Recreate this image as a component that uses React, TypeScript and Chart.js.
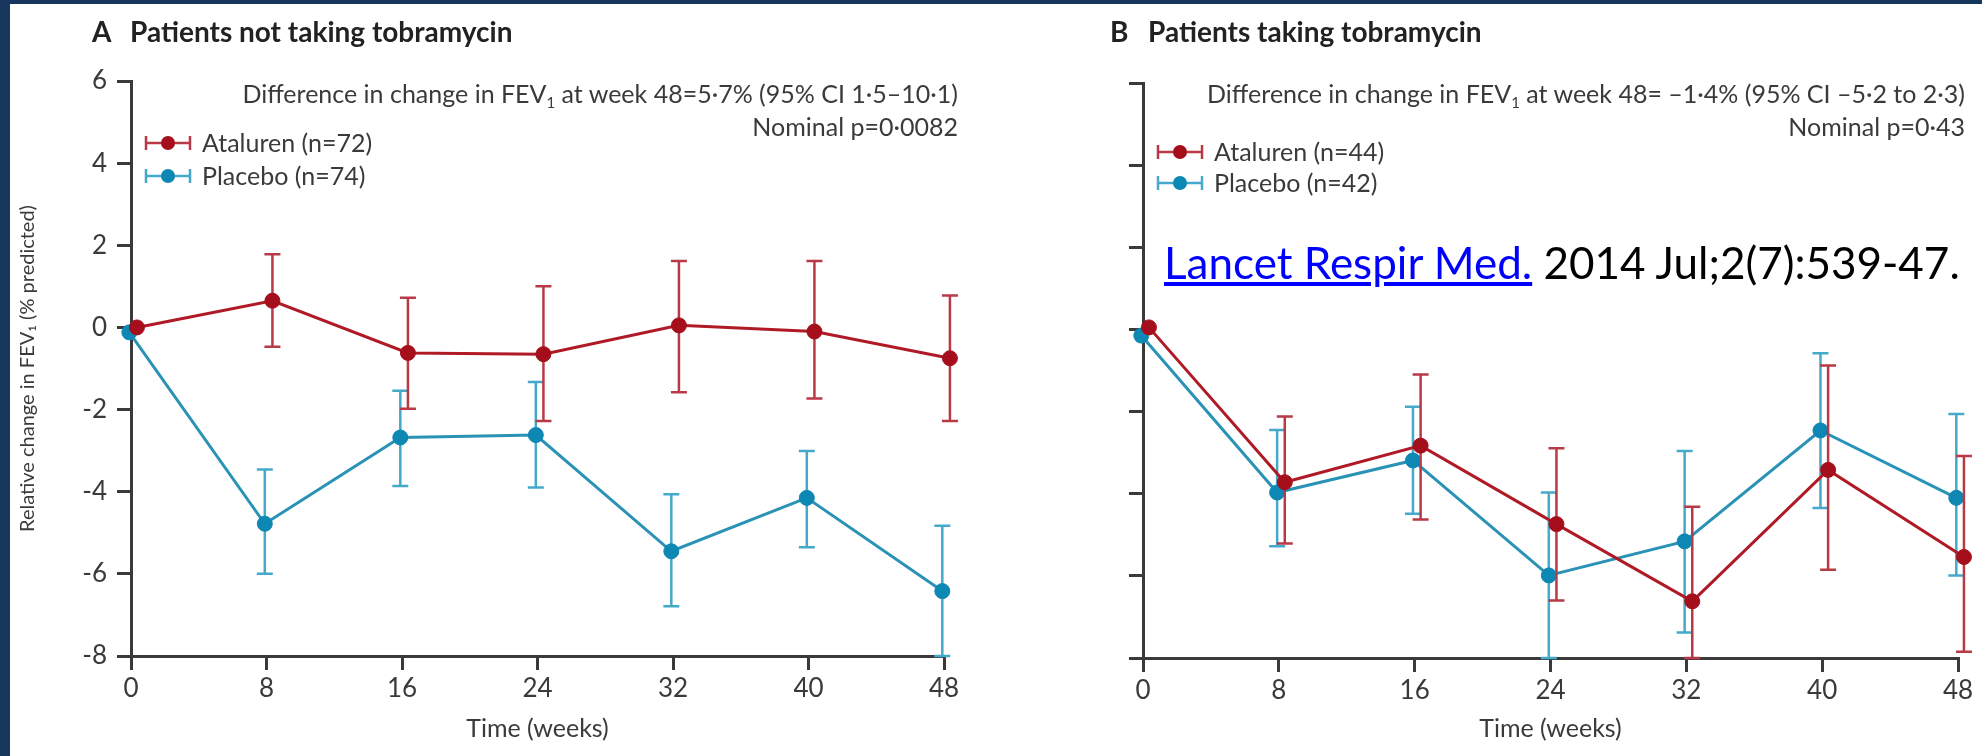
import React, { useEffect, useRef } from "react";
import { Chart, registerables } from "chart.js";

Chart.register(...registerables);

// ---------- data ----------
const WEEKS = [0, 8, 16, 24, 32, 40, 48];
const X_MIN = 0;
const X_MAX = 48;
const X_STEP = 8;
const Y_MIN = -8;
const Y_MAX = 6;
const Y_STEP = 2;

const A_ATALUREN_LABEL = "Ataluren (n=72)";
const A_PLACEBO_LABEL = "Placebo (n=74)";
const A_ATALUREN_MEAN = [0, 0.65, -0.62, -0.65, 0.05, -0.1, -0.75];
const A_ATALUREN_UPPER = [null, 1.78, 0.72, 1.0, 1.62, 1.62, 0.78];
const A_ATALUREN_LOWER = [null, -0.47, -1.98, -2.28, -1.58, -1.73, -2.28];
const A_PLACEBO_MEAN = [-0.12, -4.78, -2.68, -2.62, -5.45, -4.15, -6.42];
const A_PLACEBO_UPPER = [null, -3.46, -1.54, -1.33, -4.06, -3.01, -4.83];
const A_PLACEBO_LOWER = [null, -6.0, -3.86, -3.9, -6.79, -5.35, -8.0];

const B_ATALUREN_LABEL = "Ataluren (n=44)";
const B_PLACEBO_LABEL = "Placebo (n=42)";
const B_ATALUREN_MEAN = [0.05, -3.72, -2.83, -4.74, -6.62, -3.42, -5.54];
const B_ATALUREN_UPPER = [null, -2.12, -1.1, -2.89, -4.32, -0.88, -3.08];
const B_ATALUREN_LOWER = [null, -5.21, -4.63, -6.6, -8.0, -5.85, -7.85];
const B_PLACEBO_MEAN = [-0.15, -3.97, -3.19, -5.99, -5.16, -2.46, -4.1];
const B_PLACEBO_UPPER = [null, -2.45, -1.88, -3.97, -2.96, -0.58, -2.06];
const B_PLACEBO_LOWER = [null, -5.28, -4.49, -8.0, -7.38, -4.35, -5.99];

// small horizontal dodge so the two groups do not overlap exactly
const ATALUREN_DODGE = 0.35;
const PLACEBO_DODGE = -0.1;

// ---------- styles ----------
const NAVY = "#17365d";
const FONT = "Lato, 'Noto Sans', sans-serif";
const AXIS_COLOR = "#3a3a3a";
const TEXT_COLOR = "#3a3a3a";
const RED_LINE = "#b01a26";
const RED_POINT = "#a50f1c";
const RED_ERR = "#b83a46";
const BLUE_LINE = "#2a93b5";
const BLUE_POINT = "#0d87b3";
const BLUE_ERR = "#45a9c9";

const errorBarPlugin = {
  id: "errorBars",
  beforeDatasetDraw(chart: any, args: any) {
    const ds = chart.data.datasets[args.index];
    if (!ds.upper) return;
    const xs = chart.scales.x;
    const ys = chart.scales.y;
    const ctx = chart.ctx;
    const cap = 8;
    ctx.save();
    ctx.strokeStyle = ds.errorColor;
    ctx.lineWidth = 2.5;
    ds.data.forEach((p: any, i: number) => {
      const hi = ds.upper[i];
      const lo = ds.lower[i];
      if (hi == null || lo == null) return;
      const px = xs.getPixelForValue(p.x);
      const yt = ys.getPixelForValue(hi);
      const yb = ys.getPixelForValue(lo);
      ctx.beginPath();
      ctx.moveTo(px, yt);
      ctx.lineTo(px, yb);
      ctx.moveTo(px - cap, yt);
      ctx.lineTo(px + cap, yt);
      ctx.moveTo(px - cap, yb);
      ctx.lineTo(px + cap, yb);
      ctx.stroke();
    });
    ctx.restore();
  },
};

const legendPlugin = {
  id: "errLegend",
  afterDraw(chart: any, _args: any, opts: any) {
    const { ctx, chartArea } = chart;
    const x0 = chartArea.left + 15;
    chart.data.datasets.forEach((ds: any, i: number) => {
      const y = chartArea.top + opts.offsetY + i * opts.rowGap;
      ctx.save();
      ctx.strokeStyle = ds.errorColor;
      ctx.lineWidth = 2.5;
      ctx.beginPath();
      ctx.moveTo(x0, y);
      ctx.lineTo(x0 + 44, y);
      ctx.moveTo(x0, y - 7);
      ctx.lineTo(x0, y + 7);
      ctx.moveTo(x0 + 44, y - 7);
      ctx.lineTo(x0 + 44, y + 7);
      ctx.stroke();
      ctx.fillStyle = ds.pointBackgroundColor;
      ctx.beginPath();
      ctx.arc(x0 + 22, y, 7, 0, Math.PI * 2);
      ctx.fill();
      ctx.fillStyle = TEXT_COLOR;
      ctx.font = `25px ${FONT}`;
      ctx.textBaseline = "middle";
      ctx.textAlign = "left";
      ctx.fillText(ds.label, x0 + 56, y + 1);
      ctx.restore();
    });
  },
};

function series(label: string, mean: number[], upper: any[], lower: any[], dodge: number, line: string, point: string, err: string) {
  return {
    label,
    data: WEEKS.map((w, i) => ({ x: w + dodge, y: mean[i] })),
    upper,
    lower,
    errorColor: err,
    borderColor: line,
    backgroundColor: point,
    pointBackgroundColor: point,
    pointBorderColor: point,
    pointRadius: 7.5,
    pointBorderWidth: 1,
    borderWidth: 3,
    tension: 0,
    clip: false,
  };
}

function makeConfig(opts: {
  datasets: any[];
  showYLabels: boolean;
  yWidth: number;
  xHeight: number;
  padding: { top: number; right: number; left: number; bottom: number };
  legendOffsetY: number;
  legendRowGap: number;
}) {
  return {
    type: "line" as const,
    data: { datasets: opts.datasets },
    options: {
      animation: false as const,
      responsive: false,
      maintainAspectRatio: false,
      layout: { padding: opts.padding },
      plugins: {
        legend: { display: false },
        tooltip: { enabled: false },
        title: { display: false },
        errLegend: { offsetY: opts.legendOffsetY, rowGap: opts.legendRowGap },
      },
      scales: {
        x: {
          type: "linear" as const,
          min: X_MIN,
          max: X_MAX,
          ticks: { stepSize: X_STEP, color: TEXT_COLOR, font: { family: FONT, size: 26 }, padding: 3 },
          grid: { drawOnChartArea: false, drawTicks: true, tickLength: 14, lineWidth: 3, color: AXIS_COLOR },
          border: { display: true, width: 3, color: AXIS_COLOR },
          title: {
            display: true,
            text: "Time (weeks)",
            color: TEXT_COLOR,
            font: { family: FONT, size: 25 },
            padding: { top: 0, bottom: 12 },
          },
          afterFit: (s: any) => {
            s.height = opts.xHeight;
          },
        },
        y: {
          min: Y_MIN,
          max: Y_MAX,
          ticks: {
            stepSize: Y_STEP,
            color: TEXT_COLOR,
            font: { family: FONT, size: 26 },
            padding: 10,
            callback: (v: any) => (opts.showYLabels ? String(v) : ""),
          },
          grid: { drawOnChartArea: false, drawTicks: true, tickLength: 14, lineWidth: 3, color: AXIS_COLOR },
          border: { display: true, width: 3, color: AXIS_COLOR },
          title: {
            display: opts.showYLabels,
            text: "Relative change in FEV\u2081 (% predicted)",
            color: TEXT_COLOR,
            font: { family: FONT, size: 20 },
            padding: { top: 16, bottom: 0 },
          },
          afterFit: (s: any) => {
            s.width = opts.yWidth;
          },
        },
      },
    },
    plugins: [errorBarPlugin, legendPlugin],
  };
}

const abs = (o: React.CSSProperties): React.CSSProperties => ({ position: "absolute", whiteSpace: "nowrap", ...o });
const Sub1 = () => <sub style={{ fontSize: "0.6em", verticalAlign: "-0.3em", lineHeight: 0 }}>1</sub>;

export default function App() {
  const refA = useRef<HTMLCanvasElement>(null);
  const refB = useRef<HTMLCanvasElement>(null);

  useEffect(() => {
    const a = new Chart(
      refA.current as HTMLCanvasElement,
      makeConfig({
        datasets: [
          series(A_ATALUREN_LABEL, A_ATALUREN_MEAN, A_ATALUREN_UPPER, A_ATALUREN_LOWER, ATALUREN_DODGE, RED_LINE, RED_POINT, RED_ERR),
          series(A_PLACEBO_LABEL, A_PLACEBO_MEAN, A_PLACEBO_UPPER, A_PLACEBO_LOWER, PLACEBO_DODGE, BLUE_LINE, BLUE_POINT, BLUE_ERR),
        ],
        showYLabels: true,
        yWidth: 131,
        xHeight: 100,
        padding: { top: 81, right: 56, left: 0, bottom: 0 },
        legendOffsetY: 62,
        legendRowGap: 33,
      }) as any
    );
    const b = new Chart(
      refB.current as HTMLCanvasElement,
      makeConfig({
        datasets: [
          series(B_ATALUREN_LABEL, B_ATALUREN_MEAN, B_ATALUREN_UPPER, B_ATALUREN_LOWER, ATALUREN_DODGE, RED_LINE, RED_POINT, RED_ERR),
          series(B_PLACEBO_LABEL, B_PLACEBO_MEAN, B_PLACEBO_UPPER, B_PLACEBO_LOWER, PLACEBO_DODGE, BLUE_LINE, BLUE_POINT, BLUE_ERR),
        ],
        showYLabels: false,
        yWidth: 143,
        xHeight: 98,
        padding: { top: 83, right: 24, left: 0, bottom: 0 },
        legendOffsetY: 69,
        legendRowGap: 31,
      }) as any
    );
    return () => {
      a.destroy();
      b.destroy();
    };
  }, []);

  const titleFont: React.CSSProperties = { fontFamily: FONT, fontWeight: 700, fontSize: 28, lineHeight: "28px", color: "#222" };
  const noteFont: React.CSSProperties = { fontFamily: FONT, fontSize: 25, lineHeight: "25px", color: TEXT_COLOR };

  return (
    <div style={{ position: "absolute", left: 0, top: 0, width: 1982, height: 756, background: NAVY, overflow: "hidden" }}>
      <div style={{ position: "absolute", left: 10, top: 4, right: 0, bottom: 0, background: "#ffffff" }} />
      <canvas ref={refA} width={1000} height={756} style={{ position: "absolute", left: 0, top: 0, width: 1000, height: 756 }} />
      <canvas ref={refB} width={982} height={756} style={{ position: "absolute", left: 1000, top: 0, width: 982, height: 756 }} />

      <div style={abs({ ...titleFont, left: 92, top: 17 })}>A</div>
      <div style={abs({ ...titleFont, left: 130, top: 17 })}>Patients not taking tobramycin</div>
      <div style={abs({ ...titleFont, left: 1110, top: 17 })}>B</div>
      <div style={abs({ ...titleFont, left: 1148, top: 17 })}>Patients taking tobramycin</div>

      <div style={abs({ ...noteFont, right: 1982 - 958, top: 81 })}>
        Difference in change in FEV<Sub1 /> at week 48=5·7% (95% CI 1·5–10·1)
      </div>
      <div style={abs({ ...noteFont, right: 1982 - 958, top: 114 })}>Nominal p=0·0082</div>
      <div style={abs({ ...noteFont, right: 1982 - 1965, top: 81 })}>
        Difference in change in FEV<Sub1 /> at week 48= –1·4% (95% CI –5·2 to 2·3)
      </div>
      <div style={abs({ ...noteFont, right: 1982 - 1965, top: 114 })}>Nominal p=0·43</div>

      <div style={abs({ left: 1164, top: 240, fontFamily: FONT, fontSize: 44, lineHeight: "44px", color: "#000" })}>
        <span style={{ color: "#0000ff", textDecoration: "underline" }}>Lancet Respir Med.</span> 2014 Jul;2(7):539-47.
      </div>
    </div>
  );
}
